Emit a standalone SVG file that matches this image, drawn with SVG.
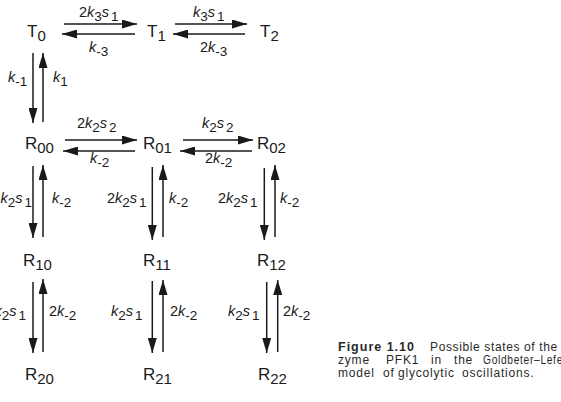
<svg xmlns="http://www.w3.org/2000/svg" width="561" height="402" viewBox="0 0 561 402">
<style>
text{font-family:"Liberation Sans",Arial,sans-serif;fill:#1a1a1a}
.nd{font-size:17px}
.ns{font-size:15px}
.lb{font-size:14.5px}
.sb{font-size:13.5px}
.i{font-style:italic}
.cap{font-size:12px;fill:#2a2a2a;letter-spacing:0.8px}
.capb{font-size:12.5px;font-weight:bold;fill:#2a2a2a;letter-spacing:1px}
.ar{stroke:#1a1a1a;stroke-width:1.5;fill:none;marker-end:url(#ah)}
</style>
<defs>
<marker id="ah" markerUnits="userSpaceOnUse" markerWidth="15" markerHeight="9" refX="15" refY="4.5" orient="auto">
<path d="M0,0 L15,4.5 L0,9 z" fill="#1a1a1a"/>
</marker>
</defs>
<rect width="561" height="402" fill="#fff"/>

<g id="nodes">
<g id="T0"><text class="nd" x="27" y="37">T<tspan class="ns" dy="4">0</tspan></text></g>
<g id="T1"><text class="nd" x="147" y="37">T<tspan class="ns" dy="4">1</tspan></text></g>
<g id="T2"><text class="nd" x="260" y="37">T<tspan class="ns" dy="4">2</tspan></text></g>
<g id="R00"><text class="nd" x="25" y="149">R<tspan class="ns" dy="4">00</tspan></text></g>
<g id="R01"><text class="nd" x="143" y="149">R<tspan class="ns" dy="4">01</tspan></text></g>
<g id="R02"><text class="nd" x="257" y="149">R<tspan class="ns" dy="4">02</tspan></text></g>
<g id="R10"><text class="nd" x="23" y="266">R<tspan class="ns" dy="4">10</tspan></text></g>
<g id="R11"><text class="nd" x="143" y="266">R<tspan class="ns" dy="4">11</tspan></text></g>
<g id="R12"><text class="nd" x="257" y="266">R<tspan class="ns" dy="4">12</tspan></text></g>
<g id="R20"><text class="nd" x="25" y="380">R<tspan class="ns" dy="4">20</tspan></text></g>
<g id="R21"><text class="nd" x="143" y="380">R<tspan class="ns" dy="4">21</tspan></text></g>
<g id="R22"><text class="nd" x="258" y="380">R<tspan class="ns" dy="4">22</tspan></text></g>
</g>

<g id="connectors">
<line class="ar" x1="64" y1="24" x2="137" y2="24"/>
<line class="ar" x1="135" y1="34" x2="62" y2="34"/>
<line class="ar" x1="175" y1="24" x2="247" y2="24"/>
<line class="ar" x1="245" y1="34" x2="173" y2="34"/>
<line class="ar" x1="65" y1="140" x2="137" y2="140"/>
<line class="ar" x1="135" y1="151" x2="63" y2="151"/>
<line class="ar" x1="183" y1="140" x2="253" y2="140"/>
<line class="ar" x1="252" y1="151" x2="180" y2="151"/>
<line class="ar" x1="33" y1="53" x2="33" y2="123"/>
<line class="ar" x1="43" y1="122" x2="43" y2="53"/>
<line class="ar" x1="33" y1="166" x2="33" y2="238"/>
<line class="ar" x1="43" y1="237" x2="43" y2="165"/>
<line class="ar" x1="152.3" y1="167" x2="152.3" y2="240"/>
<line class="ar" x1="163" y1="237" x2="163" y2="165"/>
<line class="ar" x1="264.3" y1="168" x2="264.3" y2="240"/>
<line class="ar" x1="275" y1="237" x2="275" y2="165"/>
<line class="ar" x1="33" y1="282" x2="33" y2="353"/>
<line class="ar" x1="43" y1="352" x2="43" y2="279"/>
<line class="ar" x1="152.3" y1="281" x2="152.3" y2="353"/>
<line class="ar" x1="163" y1="352" x2="163" y2="280"/>
<line class="ar" x1="266.7" y1="282" x2="266.7" y2="353"/>
<line class="ar" x1="277.7" y1="352" x2="277.7" y2="280"/>
</g>

<g id="labels">
<text class="lb" x="79" y="17">2<tspan class="i">k</tspan><tspan class="sb" dy="3.5">3</tspan><tspan class="i" dy="-3.5">s</tspan><tspan class="sb" dx="2" dy="3.5">1</tspan></text>
<text class="lb" x="89" y="52"><tspan class="i">k</tspan><tspan class="sb" dy="3.5">-3</tspan></text>
<text class="lb" x="193" y="17"><tspan class="i">k</tspan><tspan class="sb" dy="3.5">3</tspan><tspan class="i" dy="-3.5">s</tspan><tspan class="sb" dx="2" dy="3.5">1</tspan></text>
<text class="lb" x="200" y="52">2<tspan class="i">k</tspan><tspan class="sb" dy="3.5">-3</tspan></text>
<text class="lb" x="8" y="82"><tspan class="i">k</tspan><tspan class="sb" dy="3.5">-1</tspan></text>
<text class="lb" x="53" y="82"><tspan class="i">k</tspan><tspan class="sb" dy="3.5">1</tspan></text>

<text class="lb" x="77" y="128">2<tspan class="i">k</tspan><tspan class="sb" dy="3.5">2</tspan><tspan class="i" dy="-3.5">s</tspan><tspan class="sb" dx="2" dy="3.5">2</tspan></text>
<text class="lb" x="90" y="163"><tspan class="i">k</tspan><tspan class="sb" dy="3.5">-2</tspan></text>
<text class="lb" x="202" y="128"><tspan class="i">k</tspan><tspan class="sb" dy="3.5">2</tspan><tspan class="i" dy="-3.5">s</tspan><tspan class="sb" dx="2" dy="3.5">2</tspan></text>
<text class="lb" x="205" y="163">2<tspan class="i">k</tspan><tspan class="sb" dy="3.5">-2</tspan></text>

<text class="lb" x="32" y="203" text-anchor="end"><tspan class="i">k</tspan><tspan class="sb" dy="3.5">2</tspan><tspan class="i" dy="-3.5">s</tspan><tspan class="sb" dx="2" dy="3.5">1</tspan></text>
<text class="lb" x="52" y="203"><tspan class="i">k</tspan><tspan class="sb" dy="3.5">-2</tspan></text>
<text class="lb" x="107" y="203">2<tspan class="i">k</tspan><tspan class="sb" dy="3.5">2</tspan><tspan class="i" dy="-3.5">s</tspan><tspan class="sb" dx="2" dy="3.5">1</tspan></text>
<text class="lb" x="169" y="203"><tspan class="i">k</tspan><tspan class="sb" dy="3.5">-2</tspan></text>
<text class="lb" x="218" y="203">2<tspan class="i">k</tspan><tspan class="sb" dy="3.5">2</tspan><tspan class="i" dy="-3.5">s</tspan><tspan class="sb" dx="2" dy="3.5">1</tspan></text>
<text class="lb" x="280" y="203"><tspan class="i">k</tspan><tspan class="sb" dy="3.5">-2</tspan></text>

<text class="lb" x="26" y="316" text-anchor="end"><tspan class="i">k</tspan><tspan class="sb" dy="3.5">2</tspan><tspan class="i" dy="-3.5">s</tspan><tspan class="sb" dx="2" dy="3.5">1</tspan></text>
<text class="lb" x="49" y="316">2<tspan class="i">k</tspan><tspan class="sb" dy="3.5">-2</tspan></text>
<text class="lb" x="111" y="316"><tspan class="i">k</tspan><tspan class="sb" dy="3.5">2</tspan><tspan class="i" dy="-3.5">s</tspan><tspan class="sb" dx="2" dy="3.5">1</tspan></text>
<text class="lb" x="170" y="316">2<tspan class="i">k</tspan><tspan class="sb" dy="3.5">-2</tspan></text>
<text class="lb" x="228" y="316"><tspan class="i">k</tspan><tspan class="sb" dy="3.5">2</tspan><tspan class="i" dy="-3.5">s</tspan><tspan class="sb" dx="2" dy="3.5">1</tspan></text>
<text class="lb" x="283" y="316">2<tspan class="i">k</tspan><tspan class="sb" dy="3.5">-2</tspan></text>
</g>

<g id="caption">
<text class="capb" x="338" y="351">Figure 1.10</text>
<text class="cap" x="430" y="351" textLength="128" lengthAdjust="spacing">Possible states of the</text>
<text class="cap" y="364"><tspan x="338">zyme</tspan><tspan x="386">PFK1</tspan><tspan x="431">in</tspan><tspan x="454">the</tspan></text>
<text class="cap" x="483" y="364" textLength="80" lengthAdjust="spacingAndGlyphs">Goldbeter–Lefe</text>
<text class="cap" y="377"><tspan x="338">model</tspan><tspan x="383">of</tspan><tspan x="398">glycolytic</tspan><tspan x="462">oscillations.</tspan></text>
</g>
</svg>
